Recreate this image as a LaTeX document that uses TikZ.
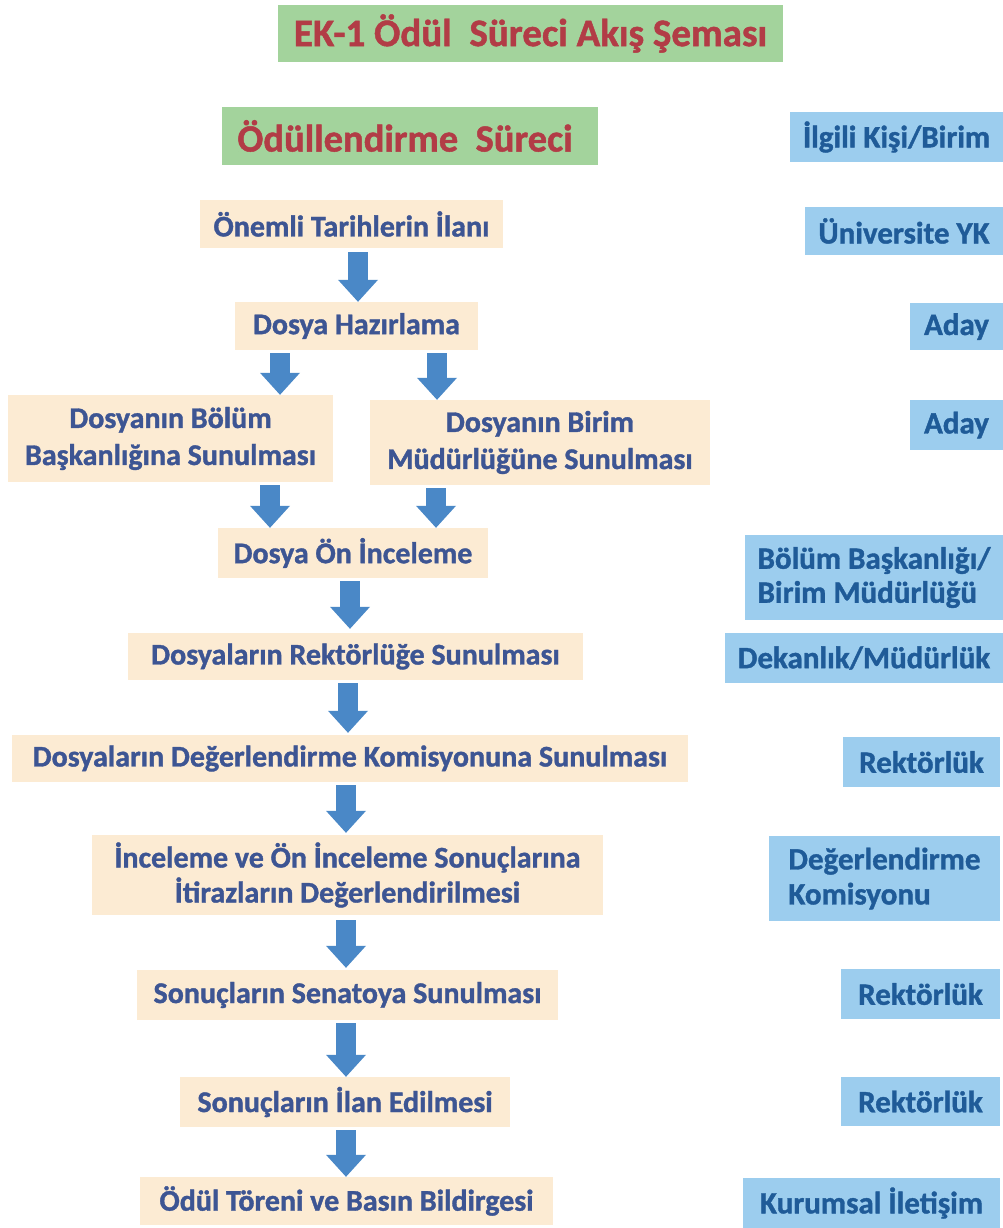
\documentclass[tikz,border=0pt]{standalone}
\usepackage{fontspec}
\setmainfont{Carlito}
\newfontfamily\heavy{Carlito}[FakeBold=1.2]
\usetikzlibrary{arrows.meta,calc}
\definecolor{tgreen}{HTML}{A3D39C}
\definecolor{tred}{HTML}{B23C46}
\definecolor{beige}{HTML}{FCEBD3}
\definecolor{stepblue}{HTML}{3D5593}
\definecolor{rblue}{HTML}{9CCDEE}
\definecolor{rtext}{HTML}{1F5B98}
\definecolor{arrblue}{HTML}{4A88C7}
\begin{document}
\begin{tikzpicture}[x=1pt,y=-1pt,
  greenbox/.style={fill=tgreen,text=tred,font=\fontsize{39}{44}\selectfont\heavy\bfseries,inner sep=0pt},
  stepbox/.style={fill=beige,text=stepblue,font=\fontsize{30}{37}\selectfont\heavy\bfseries,inner sep=0pt,align=center},
  rolebox/.style={fill=rblue,text=rtext,font=\fontsize{31}{34}\selectfont\heavy\bfseries,inner sep=0pt,align=center},
  blk/.style={draw=arrblue,line width=20pt,-{Triangle[width=40pt,length=22pt,line width=0pt]},shorten <=3pt}
]
\useasboundingbox (0,0) rectangle (1003,1228);
\fill[white] (0,0) rectangle (1003,1228);

% headers
\node[greenbox,minimum width=505pt,minimum height=57pt] (title) at (530.5,33.5) {EK-1 Ödül~ Süreci Akış Şeması};
\node[greenbox,font=\fontsize{38.5}{44}\selectfont\heavy\bfseries,minimum width=376pt,minimum height=58pt] (sub) at (410,136) {Ödüllendirme~ Süreci\hspace*{10pt}};

% steps
\node[stepbox,minimum width=303pt,minimum height=48pt] (s1) at (351.5,224) {Önemli Tarihlerin İlanı};
\node[stepbox,minimum width=243pt,minimum height=48pt] (s2) at (356.5,326) {Dosya Hazırlama};
\node[stepbox,minimum width=325pt,minimum height=87pt] (s3a) at (170.5,438.5) {Dosyanın Bölüm\\Başkanlığına Sunulması};
\node[stepbox,minimum width=340pt,minimum height=85pt] (s3b) at (540,442.5) {Dosyanın Birim\\Müdürlüğüne Sunulması};
\node[stepbox,minimum width=270pt,minimum height=50pt] (s4) at (353,553) {Dosya Ön İnceleme};
\node[stepbox,minimum width=455pt,minimum height=47pt] (s5) at (355.5,656.5) {Dosyaların Rektörlüğe Sunulması};
\node[stepbox,minimum width=676pt,minimum height=47pt] (s6) at (350,758.5) {Dosyaların Değerlendirme Komisyonuna Sunulması};
\node[stepbox,minimum width=511pt,minimum height=80pt,font=\fontsize{30}{35}\selectfont\heavy\bfseries] (s7) at (347.5,875) {İnceleme ve Ön İnceleme Sonuçlarına\\İtirazların Değerlendirilmesi};
\node[stepbox,minimum width=421pt,minimum height=50pt] (s8) at (347.5,995) {Sonuçların Senatoya Sunulması};
\node[stepbox,minimum width=330pt,minimum height=50pt] (s9) at (345,1102) {Sonuçların İlan Edilmesi};
\node[stepbox,minimum width=413pt,minimum height=48pt] (s10) at (346.5,1201) {Ödül Töreni ve Basın Bildirgesi};

% responsible units
\node[rolebox,minimum width=213pt,minimum height=50pt] (r0) at (896.5,137) {İlgili Kişi/Birim};
\node[rolebox,minimum width=198pt,minimum height=48pt] (r1) at (904,231) {Üniversite YK};
\node[rolebox,minimum width=93pt,minimum height=47pt] (r2) at (956.5,326.5) {Aday};
\node[rolebox,minimum width=93pt,minimum height=50pt] (r3) at (956.5,425) {Aday};
\node[rolebox,minimum width=258pt,minimum height=85pt,align=left] (r4) at (874,577.5) {Bölüm Başkanlığı/\\Birim Müdürlüğü};
\node[rolebox,minimum width=278pt,minimum height=50pt] (r5) at (864,658) {Dekanlık/Müdürlük};
\node[rolebox,minimum width=157pt,minimum height=50pt] (r6) at (921.5,762) {Rektörlük};
\node[rolebox,minimum width=231pt,minimum height=85pt,align=left,font=\fontsize{31}{35}\selectfont\heavy\bfseries] (r7) at (884.5,878.5) {Değerlendirme\\Komisyonu};
\node[rolebox,minimum width=159pt,minimum height=50pt] (r8) at (920.5,994) {Rektörlük};
\node[rolebox,minimum width=159pt,minimum height=49pt] (r9) at (920.5,1101.5) {Rektörlük};
\node[rolebox,minimum width=257pt,minimum height=50pt] (r10) at (871.5,1203) {Kurumsal İletişim};

% arrow columns
\coordinate (ax1) at (358,0);
\coordinate (ax2) at (280,0);
\coordinate (ax3) at (437,0);
\coordinate (ax4) at (270,0);
\coordinate (ax5) at (436,0);
\coordinate (ax6) at (350,0);
\coordinate (ax7) at (348,0);
\coordinate (ax8) at (346,0);

\draw[blk,shorten <=4pt] (s1.south -| ax1) -- (s2.north -| ax1);
\draw[blk] (s2.south -| ax2) -- (s3a.north -| ax2);
\draw[blk] (s2.south -| ax3) -- (s3b.north -| ax3);
\draw[blk] (s3a.south -| ax4) -- (s4.north -| ax4);
\draw[blk] (s3b.south -| ax5) -- (s4.north -| ax5);
\draw[blk,shorten >=4pt] (s4.south -| ax6) -- (s5.north -| ax6);
\draw[blk,shorten >=2pt] (s5.south -| ax7) -- (s6.north -| ax7);
\draw[blk,shorten >=2pt] (s6.south -| ax8) -- (s7.north -| ax8);
\draw[blk,shorten <=5pt,shorten >=2pt] (s7.south -| ax8) -- (s8.north -| ax8);
\draw[blk] (s8.south -| ax8) -- (s9.north -| ax8);
\draw[blk] (s9.south -| ax8) -- (s10.north -| ax8);
\end{tikzpicture}
\end{document}
